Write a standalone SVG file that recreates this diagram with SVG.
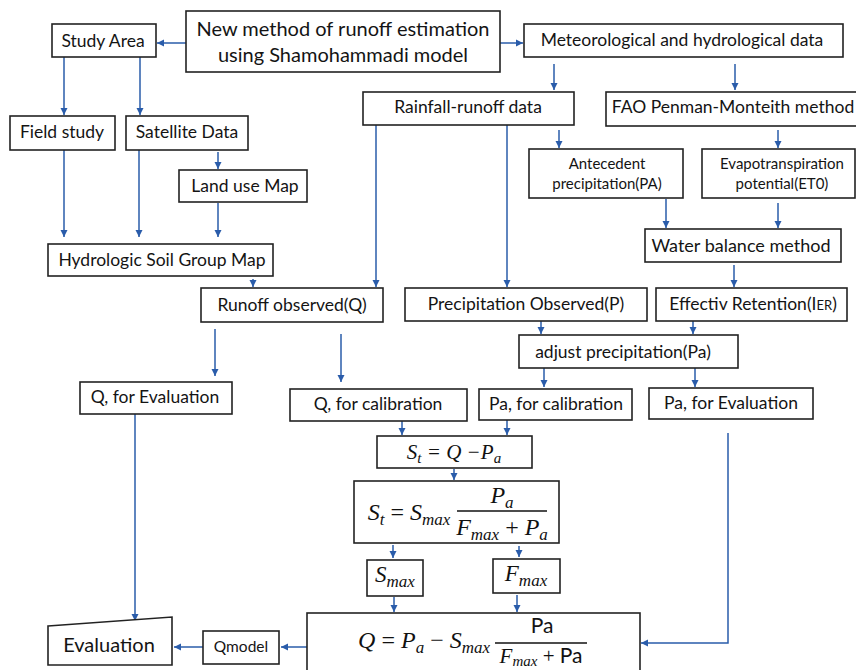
<svg xmlns="http://www.w3.org/2000/svg" width="856" height="670" viewBox="0 0 856 670">
<defs>
<marker id="ah" markerUnits="userSpaceOnUse" markerWidth="8" markerHeight="8" refX="7" refY="4" orient="auto">
<path d="M0,0.5 L7,4 L0,7.5 z" fill="#2a5caa"/>
</marker>
<style>
.b{fill:#fff;stroke:#222;stroke-width:1.6}
.t{font-family:Lato,"Liberation Sans",sans-serif;font-size:17.5px;fill:#141414;text-anchor:middle}
.s{font-size:15px}
.m{font-family:"Liberation Serif",serif;font-style:italic;fill:#111;text-anchor:middle}
.c{fill:none;stroke:#2a5caa;stroke-width:1.5;marker-end:url(#ah)}
</style>
</defs>
<rect width="856" height="670" fill="#fff"/>

<g id="connectors">
<path class="c" d="M186,43 H157"/>
<path class="c" d="M500,43 H523"/>
<path class="c" d="M554,64 V90"/>
<path class="c" d="M735,64 V90"/>
<path class="c" d="M64,57 V115"/>
<path class="c" d="M140,57 V115"/>
<path class="c" d="M64,150 V237"/>
<path class="c" d="M139,150 V237"/>
<path class="c" d="M218,152 V169"/>
<path class="c" d="M218,203 V237"/>
<path class="c" d="M253,279 V287"/>
<path class="c" d="M376,125 V287"/>
<path class="c" d="M507,125 V287"/>
<path class="c" d="M559,130 V148"/>
<path class="c" d="M778,130 V148"/>
<path class="c" d="M666,199 V228"/>
<path class="c" d="M778,203 V228"/>
<path class="c" d="M734,265 V287"/>
<path class="c" d="M541,321 V334"/>
<path class="c" d="M693,321 V334"/>
<path class="c" d="M544,368 V387"/>
<path class="c" d="M695,368 V387"/>
<path class="c" d="M215,329 V376"/>
<path class="c" d="M341,334 V382"/>
<path class="c" d="M402,421 V435"/>
<path class="c" d="M507,420 V435"/>
<path class="c" d="M454,469 V480"/>
<path class="c" d="M393,545 V558"/>
<path class="c" d="M519,546 V557"/>
<path class="c" d="M394,597 V612"/>
<path class="c" d="M517,595 V612"/>
<path class="c" d="M728,433 V643 H641"/>
<path class="c" d="M135,414 V621"/>
<path class="c" d="M307,647 H281"/>
<path class="c" d="M203,647 H174"/>
</g>

<g id="title">
<rect class="b" x="186" y="11" width="314" height="61"/>
<text class="t" x="343" y="36" style="font-size:20px">New method of runoff estimation</text>
<text class="t" x="343" y="62" style="font-size:20px">using Shamohammadi model</text>
</g>
<g id="study-area">
<rect class="b" x="52" y="24" width="104" height="33"/>
<text class="t" x="103" y="47">Study Area</text>
</g>
<g id="meteo">
<rect class="b" x="524" y="24" width="319" height="33"/>
<text class="t" x="682" y="46">Meteorological and hydrological data</text>
</g>
<g id="rainfall">
<rect class="b" x="363" y="92" width="211" height="33"/>
<text class="t" x="468" y="113">Rainfall-runoff data</text>
</g>
<g id="fao">
<rect class="b" x="606" y="92" width="252" height="34"/>
<text class="t" x="733" y="113">FAO Penman-Monteith method</text>
</g>
<g id="field">
<rect class="b" x="10" y="116" width="105" height="34"/>
<text class="t" x="62" y="138">Field study</text>
</g>
<g id="satellite">
<rect class="b" x="126" y="116" width="122" height="34"/>
<text class="t" x="187" y="138">Satellite Data</text>
</g>
<g id="landuse">
<rect class="b" x="179" y="170" width="128" height="32"/>
<text class="t" x="245" y="192">Land use Map</text>
</g>
<g id="hsg">
<rect class="b" x="48" y="244" width="225" height="32"/>
<text class="t" x="162" y="266">Hydrologic Soil Group Map</text>
</g>
<g id="runoff-obs">
<rect class="b" x="201" y="288" width="182" height="34"/>
<text class="t" x="292" y="311">Runoff observed(Q)</text>
</g>
<g id="antecedent">
<rect class="b" x="529" y="149" width="154" height="49"/>
<text class="t s" x="607" y="169">Antecedent</text>
<text class="t s" x="607" y="189">precipitation(PA)</text>
</g>
<g id="evapo">
<rect class="b" x="702" y="149" width="153" height="49"/>
<text class="t s" x="782" y="169">Evapotranspiration</text>
<text class="t s" x="782" y="189">potential(ET0)</text>
</g>
<g id="water-balance">
<rect class="b" x="645" y="229" width="196" height="33"/>
<text class="t" x="741" y="252" style="font-size:18px">Water balance method</text>
</g>
<g id="precip-obs">
<rect class="b" x="405" y="288" width="242" height="33"/>
<text class="t" x="526" y="310">Precipitation Observed(P)</text>
</g>
<g id="effectiv">
<rect class="b" x="656" y="288" width="191" height="33"/>
<text class="t" x="753" y="310">Effectiv Retention(I<tspan style="font-size:13px">ER</tspan>)</text>
</g>
<g id="adjust">
<rect class="b" x="519" y="335" width="219" height="33"/>
<text class="t" x="623" y="358">adjust precipitation(Pa)</text>
</g>
<g id="q-eval">
<rect class="b" x="80" y="382" width="152" height="32"/>
<text class="t" x="155" y="403">Q, for Evaluation</text>
</g>
<g id="q-cal">
<rect class="b" x="290" y="389" width="177" height="32"/>
<text class="t" x="378" y="410">Q, for calibration</text>
</g>
<g id="pa-cal">
<rect class="b" x="479" y="389" width="153" height="31"/>
<text class="t" x="556" y="410">Pa, for calibration</text>
</g>
<g id="pa-eval">
<rect class="b" x="649" y="388" width="164" height="31"/>
<text class="t" x="731" y="409">Pa, for Evaluation</text>
</g>
<g id="st-eq">
<rect class="b" x="377" y="436" width="155" height="32"/>
<text class="m" x="454" y="459" style="font-size:21px">S<tspan dy="4" style="font-size:15px">t</tspan><tspan dy="-4"> = Q −P</tspan><tspan dy="4" style="font-size:15px">a</tspan></text>
</g>
<g id="st-formula">
<rect class="b" x="354" y="481" width="205" height="62"/>
<text class="m" x="409" y="520" style="font-size:24px">S<tspan dy="5" style="font-size:17px">t</tspan><tspan dy="-5" font-style="normal"> = </tspan><tspan>S</tspan><tspan dy="5" style="font-size:17px">max</tspan></text>
<text class="m" x="502" y="503" style="font-size:24px">P<tspan dy="5" style="font-size:17px">a</tspan></text>
<line x1="457" y1="511" x2="547" y2="511" stroke="#111" stroke-width="1.3"/>
<text class="m" x="502" y="535" style="font-size:24px">F<tspan dy="5" style="font-size:17px">max</tspan><tspan dy="-5" font-style="normal"> + </tspan><tspan>P</tspan><tspan dy="5" style="font-size:17px">a</tspan></text>
</g>
<g id="smax">
<rect class="b" x="367" y="560" width="56" height="36"/>
<text class="m" x="395" y="582" style="font-size:23px">S<tspan dy="5" style="font-size:17px">max</tspan></text>
</g>
<g id="fmax">
<rect class="b" x="493" y="559" width="67" height="34"/>
<text class="m" x="526" y="581" style="font-size:23px">F<tspan dy="5" style="font-size:17px">max</tspan></text>
</g>
<g id="q-formula">
<rect class="b" x="307" y="613" width="333" height="70"/>
<text class="m" x="490" y="648" style="font-size:24px;text-anchor:end">Q<tspan font-style="normal"> = </tspan><tspan>P</tspan><tspan dy="5" style="font-size:17px">a</tspan><tspan dy="-5" font-style="normal"> − </tspan><tspan>S</tspan><tspan dy="5" style="font-size:17px">max</tspan></text>
<text class="t" x="542" y="633" style="font-size:21px">Pa</text>
<line x1="495" y1="643" x2="587" y2="643" stroke="#111" stroke-width="1.3"/>
<text class="m" x="541" y="663" style="font-size:21px">F<tspan dy="3" style="font-size:15px">max</tspan><tspan dy="-3" font-style="normal"> + </tspan><tspan font-style="normal" font-family="Lato, sans-serif">Pa</tspan></text>
</g>
<g id="qmodel">
<rect class="b" x="203" y="631" width="76" height="33"/>
<text class="t" x="241" y="652" style="font-size:15.5px">Qmodel</text>
</g>
<g id="evaluation">
<polygon class="b" points="48,626 172,617 172,665 48,665"/>
<text class="t" x="109" y="652" style="font-size:20px">Evaluation</text>
</g>
</svg>
